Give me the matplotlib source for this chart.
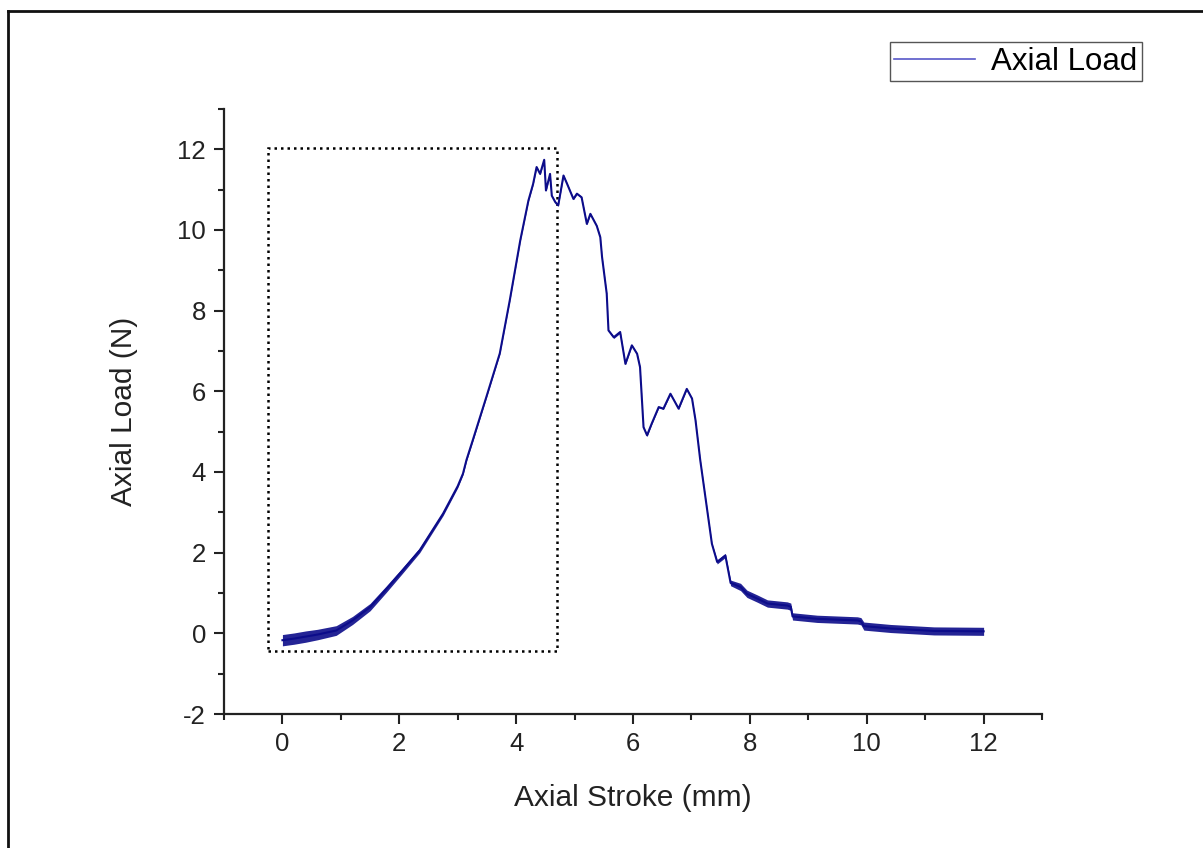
import matplotlib.pyplot as plt
from matplotlib.lines import Line2D
from matplotlib.patches import Rectangle
from matplotlib.ticker import MultipleLocator

plt.rcParams['font.family'] = ['Liberation Sans', 'DejaVu Sans']
plt.rcParams['axes.unicode_minus'] = False

# Axial stroke (mm) and load (N)
stroke = [0.00, 0.20, 0.40, 0.60, 0.92, 1.20, 1.50, 1.78, 2.05, 2.35,
          2.75, 3.00, 3.09, 3.15, 3.26, 3.49, 3.72, 3.89, 4.07, 4.21,
          4.29, 4.35, 4.41, 4.48, 4.51, 4.58, 4.61, 4.67, 4.72, 4.81,
          4.87, 4.98, 5.04, 5.12, 5.21, 5.27, 5.38, 5.44, 5.47, 5.55,
          5.58, 5.67, 5.78, 5.87, 5.98, 6.07, 6.12, 6.18, 6.24, 6.32,
          6.44, 6.52, 6.64, 6.72, 6.78, 6.92, 7.01, 7.07, 7.15, 7.27,
          7.35, 7.44, 7.58, 7.67, 7.84, 7.95, 8.13, 8.30, 8.64, 8.70,
          8.73, 9.15, 9.84, 9.90, 9.95, 10.41, 11.15, 12.00]
load = [-0.17, -0.13, -0.08, -0.03, 0.07, 0.32, 0.65, 1.10, 1.55, 2.06,
        2.97, 3.65, 3.96, 4.30, 4.80, 5.86, 6.94, 8.25, 9.74, 10.73,
        11.14, 11.56, 11.39, 11.74, 10.98, 11.39, 10.85, 10.69, 10.61, 11.35,
        11.15, 10.77, 10.90, 10.81, 10.15, 10.40, 10.10, 9.82, 9.33, 8.42,
        7.51, 7.34, 7.47, 6.68, 7.14, 6.93, 6.60, 5.11, 4.91, 5.20,
        5.61, 5.57, 5.94, 5.73, 5.57, 6.06, 5.82, 5.28, 4.30, 3.05,
        2.22, 1.77, 1.93, 1.25, 1.15, 0.98, 0.86, 0.74, 0.69, 0.66,
        0.42, 0.36, 0.32, 0.30, 0.18, 0.12, 0.06, 0.05]
# half-height of the noisy band around the curve
spread = [0.14, 0.14, 0.14, 0.13, 0.12, 0.10, 0.09, 0.08, 0.07, 0.06,
          0.05, 0.04, 0.03, 0.03, 0.03, 0.02, 0.02, 0.02, 0.02, 0.02,
          0.02, 0.02, 0.02, 0.02, 0.02, 0.02, 0.02, 0.02, 0.02, 0.02,
          0.02, 0.02, 0.02, 0.02, 0.02, 0.02, 0.02, 0.02, 0.02, 0.02,
          0.02, 0.03, 0.03, 0.02, 0.02, 0.02, 0.02, 0.02, 0.03, 0.02,
          0.02, 0.02, 0.02, 0.02, 0.02, 0.02, 0.02, 0.02, 0.02, 0.02,
          0.02, 0.05, 0.05, 0.07, 0.09, 0.09, 0.09, 0.09, 0.09, 0.09,
          0.09, 0.09, 0.09, 0.09, 0.10, 0.10, 0.10, 0.10]

# dotted box around the pre-peak region
box_x0, box_x1 = -0.24, 4.70
box_y0, box_y1 = -0.45, 12.04

line_color = '#0c0c8a'

fig = plt.figure(figsize=(12.03, 8.48), dpi=100)
ax = fig.add_axes([0.1862, 0.158, 0.680, 0.7135])

lo = [v - s for v, s in zip(load, spread)]
hi = [v + s for v, s in zip(load, spread)]
ax.fill_between(stroke, lo, hi, color=line_color, alpha=0.9, lw=0)
ax.plot(stroke, load, color=line_color, lw=1.5, label='Axial Load')

ax.add_patch(Rectangle((box_x0, box_y0), box_x1 - box_x0, box_y1 - box_y0,
                       fill=False, ec='black', lw=1.8, ls=(0, (1, 1.6))))

ax.set_xlim(-1, 13)
ax.set_ylim(-2, 13)
ax.xaxis.set_minor_locator(MultipleLocator(1))
ax.yaxis.set_minor_locator(MultipleLocator(1))
ax.set_xticks([0, 2, 4, 6, 8, 10, 12])
ax.set_yticks([-2, 0, 2, 4, 6, 8, 10, 12])

for side in ['top', 'right']:
    ax.spines[side].set_visible(False)
for side in ['left', 'bottom']:
    ax.spines[side].set_linewidth(1.6)
    ax.spines[side].set_color('#222222')

ax.tick_params(which='major', direction='out', length=7, width=1.5,
               labelsize=18.5, pad=6, colors='#222222')
ax.tick_params(which='minor', direction='out', length=4.5, width=1.5,
               colors='#222222')
ax.set_xlabel('Axial Stroke (mm)', fontsize=21.5, labelpad=20, color='#222222')
ax.set_ylabel('Axial Load (N)', fontsize=21.5, labelpad=28, color='#222222')

leg = fig.legend(handles=[Line2D([], [], color='#5858c8', lw=1.2)],
                 labels=['Axial Load'], loc='upper right',
                 bbox_to_anchor=(1142 / 1203, 1 - 42 / 848), fontsize=22.5,
                 fancybox=False, framealpha=1, borderpad=0.15,
                 handlelength=2.6, handletextpad=0.5, borderaxespad=0)
leg.get_frame().set_edgecolor('#555555')
leg.get_frame().set_linewidth(1.0)

# partial frame around the figure (left and top edges)
fx = 8 / 1203
fy = 1 - 11 / 848
fig.add_artist(Line2D([fx, fx], [0, fy], transform=fig.transFigure,
                      color='#111111', lw=2.0))
fig.add_artist(Line2D([fx, 1], [fy, fy], transform=fig.transFigure,
                      color='#111111', lw=2.0))

fig.savefig('out.png', dpi=100)
